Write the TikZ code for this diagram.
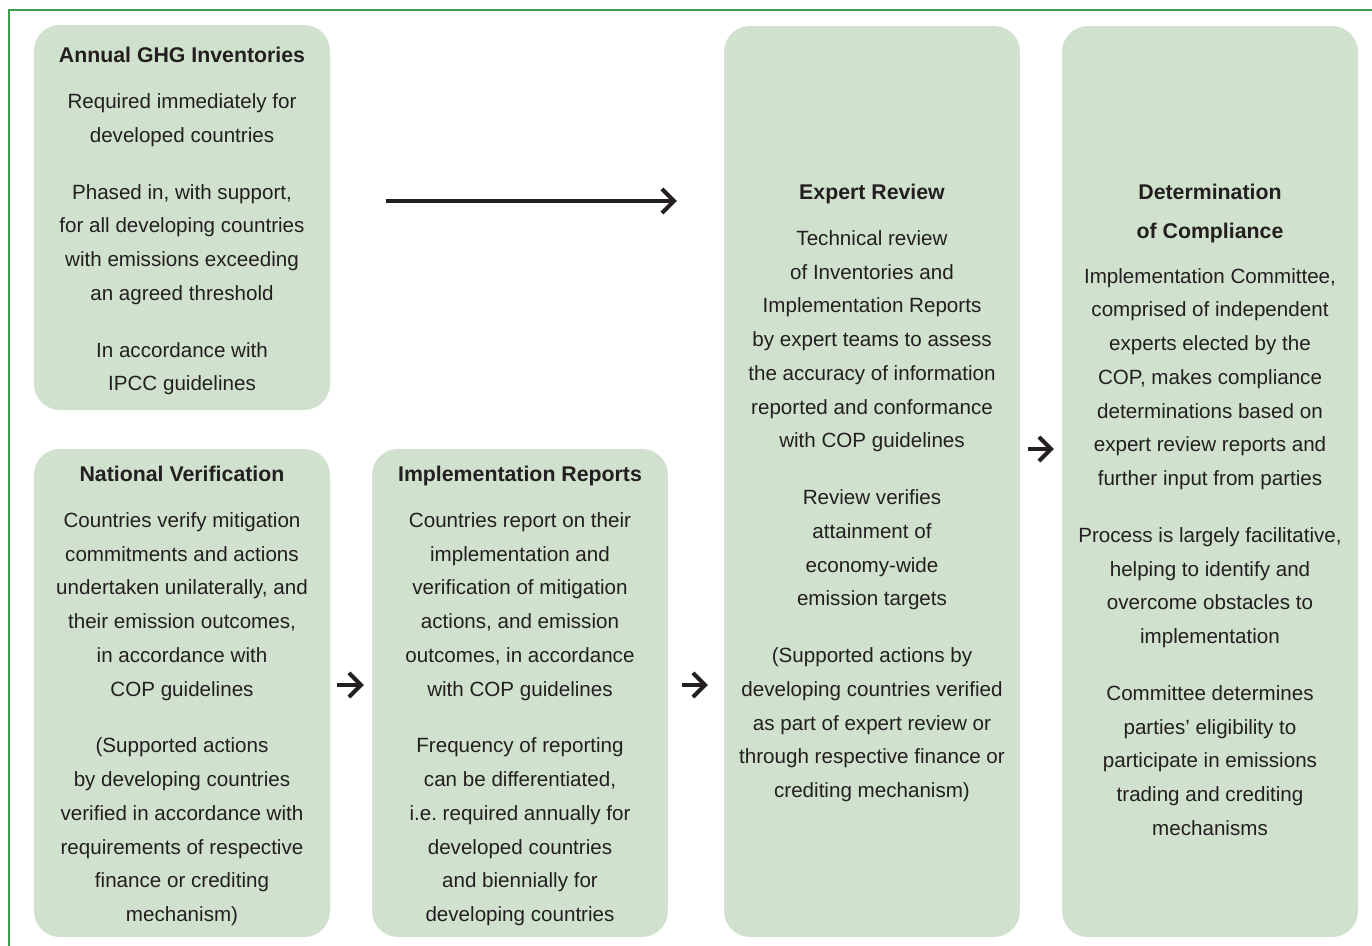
\documentclass[tikz,border=0pt]{standalone}
\usepackage{fontspec}
\setmainfont{Liberation Sans}
\usetikzlibrary{arrows.meta}
\definecolor{boxfill}{HTML}{D0E2CE}
\definecolor{ink}{HTML}{231F20}
\definecolor{frame}{HTML}{3F9E4E}
\frenchspacing
\begin{document}
\begin{tikzpicture}[x=1pt,y=-1pt,
  box/.style={draw=none, fill=boxfill, rounded corners=26pt, inner sep=0pt},
  txt/.style={anchor=north, inner sep=0pt, align=center, text=ink,
    font=\fontsize{20.6}{33.75}\selectfont},
  arr/.style={draw=ink, line width=4pt, -{Straight Barb[length=12pt,width=24pt,line width=4pt]}}
]
\useasboundingbox (0,0) rectangle (1372,945);
\fill[white] (0,0) rectangle (1372,945);
\draw[frame, line width=2pt] (8.5,946) -- (8.5,9.5) -- (1373,9.5);

% boxes
\node[box, minimum width=296pt, minimum height=385pt] (ann) at (182,217.5) {};
\node[box, minimum width=296pt, minimum height=488pt] (nat) at (182,693) {};
\node[box, minimum width=296pt, minimum height=488pt] (imp) at (520,693) {};
\node[box, minimum width=296pt, minimum height=911pt] (exp) at (872,481.5) {};
\node[box, minimum width=296pt, minimum height=911pt] (det) at (1210,481.5) {};

\newcommand{\ttl}[1]{{\bfseries\fontsize{21.3}{33.75}\selectfont\strut #1}}

% texts
\node[txt] (tann) at (182,39.1) {\ttl{Annual GHG Inventories}\\[12pt]
Required immediately for\\ developed countries\\[23pt]
Phased in, with support,\\ for all developing countries\\ with emissions exceeding\\ an agreed threshold\\[23pt]
In accordance with\\ IPCC guidelines};

\node[txt] (tnat) at (182,457.7) {\ttl{National Verification}\\[12pt]
Countries verify mitigation\\ commitments and actions\\ undertaken unilaterally, and\\ their emission outcomes,\\ in accordance with\\ COP guidelines\\[23pt]
(Supported actions\\ by developing countries\\ verified in accordance with\\ requirements of respective\\ finance or crediting\\ mechanism)};

\node[txt] (timp) at (520,457.7) {\ttl{Implementation Reports}\\[12pt]
Countries report on their\\ implementation and\\ verification of mitigation\\ actions, and emission\\ outcomes, in accordance\\ with COP guidelines\\[23pt]
Frequency of reporting\\ can be differentiated,\\ i.e. required annually for\\ developed countries\\ and biennially for\\ developing countries};

\node[txt] (texp) at (872,175.7) {\ttl{Expert Review}\\[12pt]
Technical review\\ of Inventories and\\ Implementation Reports\\ by expert teams to assess\\ the accuracy of information\\ reported and conformance\\ with COP guidelines\\[23pt]
Review verifies\\ attainment of\\ economy-wide\\ emission targets\\[23pt]
(Supported actions by\\ developing countries verified\\ as part of expert review or\\ through respective finance or\\ crediting mechanism)};

\node[txt] (tdet) at (1210,175.7) {\ttl{Determination}\\[5pt]
\ttl{of Compliance}\\[11pt]
Implementation Committee,\\ comprised of independent\\ experts elected by the\\ COP, makes compliance\\ determinations based on\\ expert review reports and\\ further input from parties\\[23pt]
Process is largely facilitative,\\ helping to identify and\\ overcome obstacles to\\ implementation\\[23pt]
Committee determines\\ parties’ eligibility to\\ participate in emissions\\ trading and crediting\\ mechanisms};

% connectors
\coordinate (r1) at (0,201);
\coordinate (r2) at (0,685);
\coordinate (r3) at (0,449);
\draw[arr, shorten <=56pt, shorten >=47pt] (ann.east |- r1) -- (exp.west |- r1);
\draw[arr, shorten <=7pt, shorten >=8pt] (nat.east |- r2) -- (imp.west |- r2);
\draw[arr, shorten <=14pt, shorten >=16pt] (imp.east |- r2) -- (exp.west |- r2);
\draw[arr, shorten <=8pt, shorten >=8pt] (exp.east |- r3) -- (det.west |- r3);
\end{tikzpicture}
\end{document}
